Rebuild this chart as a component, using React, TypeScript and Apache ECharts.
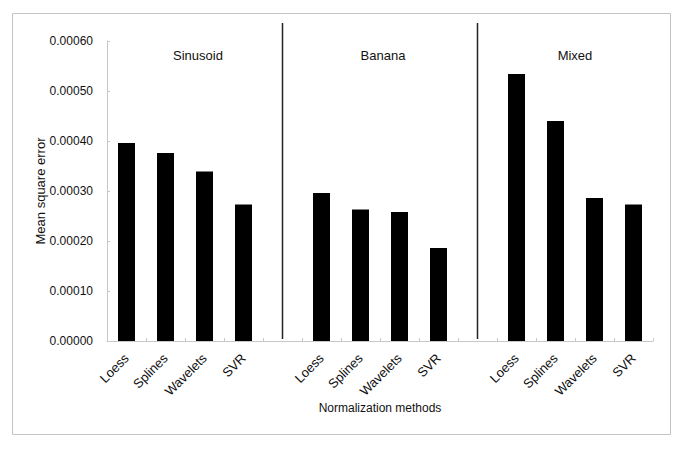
import React, { useEffect, useRef } from "react";
import * as echarts from "echarts";

const groups = ["Sinusoid", "Banana", "Mixed"];
const methods = ["Loess", "Splines", "Wavelets", "SVR"];
const sinusoid = [0.000396, 0.000376, 0.000339, 0.000273];
const banana = [0.000296, 0.000263, 0.000258, 0.000186];
const mixed = [0.000534, 0.00044, 0.000286, 0.000273];
const yTicks = [0, 0.0001, 0.0002, 0.0003, 0.0004, 0.0005, 0.0006];

const FONT = "'Liberation Sans', Arial, sans-serif";

export default function App() {
  const ref = useRef<HTMLDivElement>(null);
  useEffect(() => {
    if (!ref.current) return;
    const chart = echarts.init(ref.current, null, { renderer: "svg" });
    const groupValues = [sinusoid, banana, mixed];
    const cats: string[] = [];
    const vals: (number | string)[] = [];
    const gapIdx: number[] = [];
    groupValues.forEach((g, gi) => {
      if (gi > 0) {
        gapIdx.push(cats.length);
        cats.push(" ".repeat(gi));
        vals.push("-");
      }
      methods.forEach((m, mi) => {
        cats.push(m);
        vals.push(g[mi]);
      });
    });
    const border = {
      type: "rect",
      shape: { x: 12.5, y: 13.5, width: 658, height: 421 },
      style: { fill: "none", stroke: "#c4c4c4", lineWidth: 1 },
      silent: true,
    };
    chart.setOption({
      animation: false,
      backgroundColor: "#ffffff",
      grid: { left: 107, right: 32, top: 41, bottom: 108 },
      xAxis: {
        type: "category",
        data: cats,
        name: "Normalization methods",
        nameLocation: "middle",
        nameGap: 61,
        nameMoveOverlap: false,
        nameTextStyle: { color: "#111", fontSize: 12, fontFamily: FONT },
        axisLine: { lineStyle: { color: "#c8c8c8", width: 1 } },
        axisTick: { show: true, inside: true, length: 3, lineStyle: { color: "#c8c8c8" } },
        axisLabel: { rotate: 45, color: "#111", fontSize: 13, fontFamily: FONT, margin: 15, interval: 0 },
        splitLine: { show: false },
      },
      yAxis: {
        type: "value",
        min: yTicks[0],
        max: yTicks[yTicks.length - 1],
        interval: yTicks[1] - yTicks[0],
        name: "Mean square error",
        nameLocation: "middle",
        nameGap: 60,
        nameMoveOverlap: false,
        nameTextStyle: { color: "#111", fontSize: 13, fontFamily: FONT },
        axisLine: { show: true, lineStyle: { color: "#c8c8c8", width: 1 } },
        axisTick: { show: true, inside: true, length: 3, lineStyle: { color: "#c8c8c8" } },
        axisLabel: {
          color: "#111",
          fontSize: 12,
          fontFamily: FONT,
          margin: 14,
          formatter: (v: number) => v.toFixed(5),
        },
        splitLine: { show: false },
      },
      series: [
        {
          type: "bar",
          data: vals,
          barWidth: 17,
          itemStyle: { color: "#000000" },
        },
      ],
      graphic: [border],
    });
    const xs = gapIdx.map((i) => chart.convertToPixel({ xAxisIndex: 0 }, i) as number);
    const titleX = [198, 383, 575];
    chart.setOption({
      graphic: [
        border,
        ...xs.map((x) => ({
          type: "line",
          shape: { x1: x, y1: 23, x2: x, y2: 339 },
          style: { stroke: "#222", lineWidth: 1.5 },
          silent: true,
        })),
        ...groups.map((g, i) => ({
          type: "text",
          x: titleX[i],
          y: 55,
          style: {
            text: g,
            fill: "#111",
            fontSize: 13,
            fontFamily: FONT,
            align: "center",
            verticalAlign: "middle",
          },
          silent: true,
        })),
      ],
    });
    return () => chart.dispose();
  }, []);
  return <div ref={ref} style={{ width: 685, height: 449, position: "absolute", left: 0, top: 0 }} />;
}
